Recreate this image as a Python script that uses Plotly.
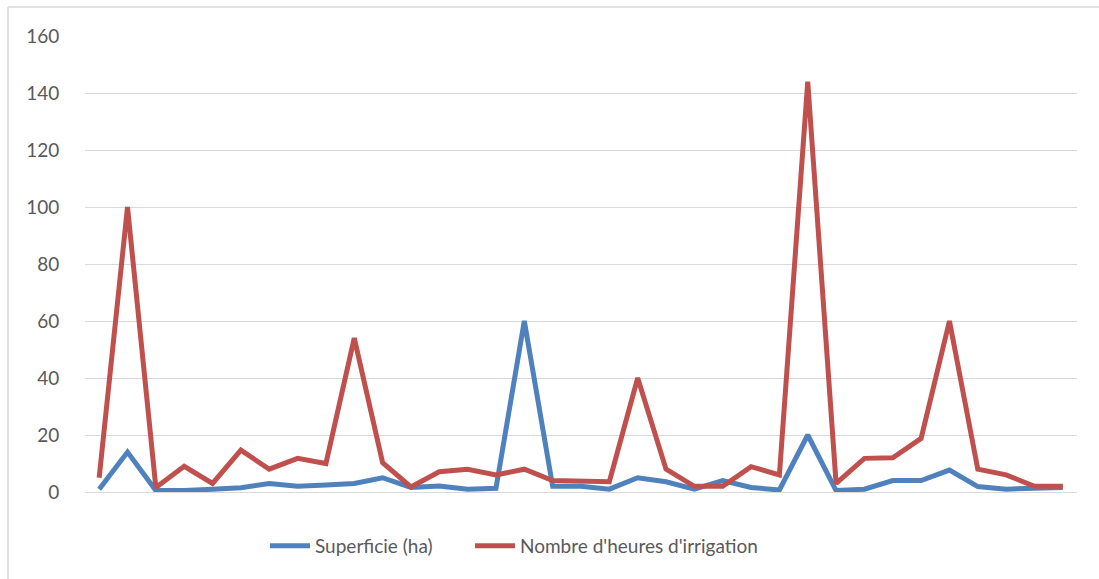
import plotly.graph_objects as go

# Parcelles (1 à 35)
parcelles = list(range(1, 36))

superficie_ha = [1, 14, 0.5, 0.5, 1, 1.5, 3, 2, 2.5, 3,
                 5, 1.6, 2.1, 1, 1.3, 60, 2, 2, 1, 5,
                 3.6, 1, 4, 1.6, 0.7, 20, 0.5, 1, 4, 4,
                 7.7, 1.9, 1, 1.5, 1.6]

heures_irrigation = [5, 100, 1.6, 9, 3, 14.7, 8, 11.8, 10, 54,
                     10.3, 1.8, 7.1, 8, 6, 8, 4, 4, 3.6, 40,
                     8, 2, 2, 8.9, 6, 144, 3, 11.8, 12, 18.8,
                     60, 8, 6, 2, 2]

y_ticks = [0, 20, 40, 60, 80, 100, 120, 140, 160]

W, H = 1099, 579
ML, MR, MT, MB = 85, 22, 36, 87
pw, ph = W - ML - MR, H - MT - MB


def px_x(x):
    return (x - ML) / pw


fig = go.Figure()
fig.add_trace(go.Scatter(
    x=parcelles, y=superficie_ha, mode="lines", name="Superficie (ha)",
    line=dict(color="#4F81BD", width=5, shape="linear"), legend="legend",
))
fig.add_trace(go.Scatter(
    x=parcelles, y=heures_irrigation, mode="lines", name="Nombre d'heures d'irrigation",
    line=dict(color="#C0504D", width=5, shape="linear"), legend="legend2",
))

# Chart-area frame: top and left edges
fig.add_shape(type="line", xref="paper", yref="paper",
              x0=px_x(8), x1=px_x(W),
              y0=(H - MB - 7) / ph, y1=(H - MB - 7) / ph,
              line=dict(color="#D9D9D9", width=1.5))
fig.add_shape(type="line", xref="paper", yref="paper",
              x0=px_x(8), x1=px_x(8),
              y0=(H - MB - 7) / ph, y1=-(MB) / ph,
              line=dict(color="#D9D9D9", width=1.5))

legend_style = dict(orientation="h", xanchor="left", y=-0.118, yanchor="middle",
                    font=dict(size=19, color="#595959"), itemwidth=40,
                    bgcolor="rgba(0,0,0,0)")

fig.update_layout(
    width=W, height=H,
    margin=dict(l=ML, r=MR, t=MT, b=MB),
    paper_bgcolor="white", plot_bgcolor="white",
    font=dict(family="Lato, Carlito, sans-serif", size=19, color="#595959"),
    showlegend=True,
    legend=dict(x=px_x(265), **legend_style),
    legend2=dict(x=px_x(470), **legend_style),
    xaxis=dict(range=[0.5, 35.5], showticklabels=False, showgrid=False,
               zeroline=False, showline=False, ticks=""),
    yaxis=dict(range=[0, 160], tickvals=y_ticks, showgrid=True,
               gridcolor="#D9D9D9", gridwidth=1.3, zeroline=True,
               zerolinecolor="#D9D9D9", zerolinewidth=1.3,
               showline=False, ticks="outside", ticklen=21, tickcolor="white",
               tickfont=dict(size=19, color="#595959")),
)

fig.write_html("out.html")
